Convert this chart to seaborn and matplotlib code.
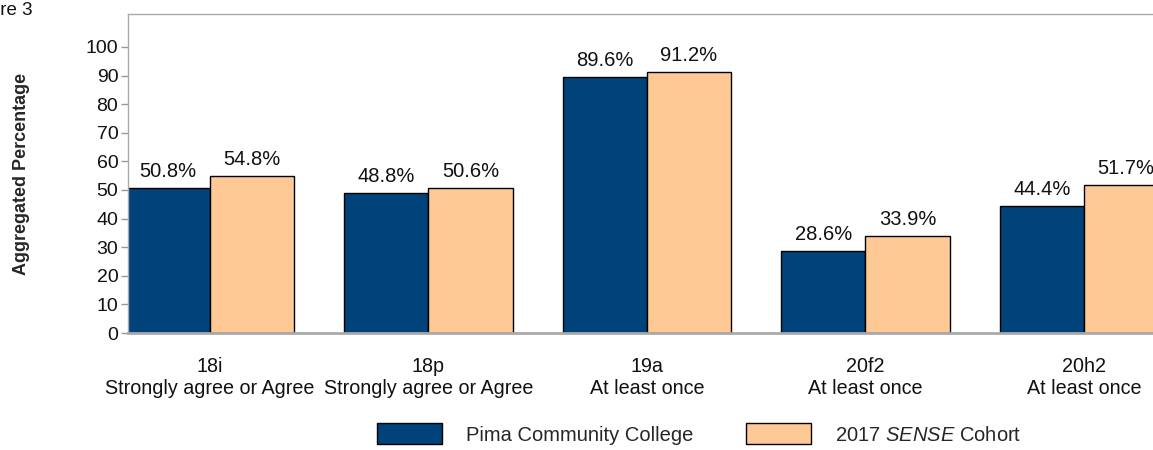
import numpy as np
import pandas as pd
import matplotlib
matplotlib.use('Agg')
import matplotlib.pyplot as plt
import seaborn as sns

items = ['18i\nStrongly agree or Agree', '18p\nStrongly agree or Agree',
         '19a\nAt least once', '20f2\nAt least once', '20h2\nAt least once']
college = [50.8, 48.8, 89.6, 28.6, 44.4]
cohort = [54.8, 50.6, 91.2, 33.9, 51.7]
groups = ['Pima Community College', '2017 $\\it{SENSE}$ Cohort']
colors = ['#00427A', '#FFC995']
yticks = list(range(0, 101, 10))

sns.set_theme(style='white')
plt.rcParams['font.family'] = ['Liberation Sans', 'DejaVu Sans']
plt.rcParams['mathtext.fontset'] = 'custom'
plt.rcParams['mathtext.rm'] = 'Liberation Sans'
plt.rcParams['mathtext.it'] = 'Liberation Sans:italic'

df = pd.DataFrame({
    'item': items * 2,
    'value': college + cohort,
    'group': [groups[0]] * len(items) + [groups[1]] * len(items),
})

fig = plt.figure(figsize=(11.53, 4.5), dpi=100)
ax = fig.add_axes([128 / 1153, 117 / 450, 1 - 128 / 1153, 319 / 450])

sns.barplot(data=df, x='item', y='value', hue='group', palette=colors, saturation=1,
            width=0.77, edgecolor='black', linewidth=1, gap=0, ax=ax)

for cont in ax.containers:
    ax.bar_label(cont, fmt='%.1f%%', padding=5, fontsize=14.5, color='#111111')

ax.set_xlim(-0.375, 4.316)
ax.set_ylim(0, 111.5)
ax.set_yticks(yticks)
ax.set_xlabel('')
ax.set_ylabel('Aggregated Percentage', fontsize=13, fontweight='bold', labelpad=40)
ax.tick_params(axis='y', length=5, width=1, color='#999999', labelsize=14, pad=2,
               left=True, labelcolor='#111111')
ax.tick_params(axis='x', length=0, labelsize=14.2, pad=17.5, labelcolor='#111111')

for side in ['left', 'top']:
    ax.spines[side].set_color('#aaaaaa')
    ax.spines[side].set_linewidth(1)
ax.spines['bottom'].set_color('#aaaaaa')
ax.spines['bottom'].set_linewidth(2)
ax.spines['right'].set_visible(False)

ax.get_legend().remove()
handles = [plt.Rectangle((0, 0), 1, 1, facecolor=c, edgecolor='black', linewidth=1) for c in colors]
fig.legend(handles, groups, loc='center', bbox_to_anchor=(0.6065, 0.036), ncol=2, frameon=False,
           fontsize=14.5, handlelength=3.2, handleheight=1.25, handletextpad=1.2, columnspacing=2.65)

fig.text(32 / 1153, 0.995, 'Figure 3', ha='right', va='top', fontsize=13.5, color='#111111')

fig.savefig('out.png', dpi=100)
